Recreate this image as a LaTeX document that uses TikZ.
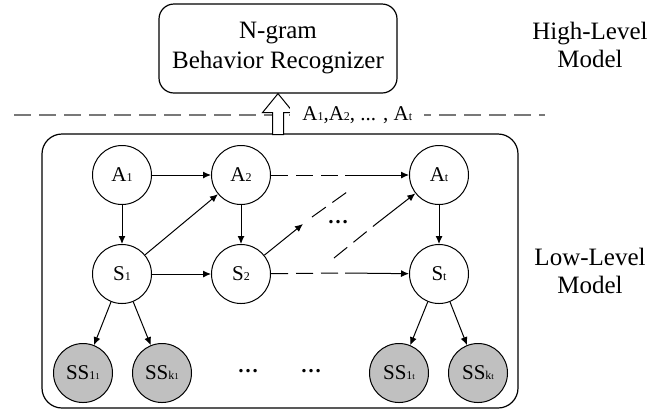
\documentclass[tikz,border=0pt]{standalone}
\usepackage{fontspec}
\setmainfont{Liberation Serif}
\usepackage{tikz}
\usetikzlibrary{arrows.meta, positioning, calc}
\definecolor{grisSS}{RGB}{192,192,192}
\definecolor{grisLinea}{RGB}{120,120,120}
\newcommand{\idx}[1]{{\fontsize{6}{6}\selectfont #1}}
\newcommand{\idxx}[1]{{\fontsize{4.5}{4.5}\selectfont #1}}

\begin{document}
\begin{tikzpicture}[
  x=0.5pt, y=-0.5pt,
  node distance=19.5pt and 29.5pt,
  var/.style={circle, draw, line width=0.5pt, minimum size=29.5pt,
              inner sep=0pt, font=\fontsize{10.5}{12}\selectfont},
  obs/.style={var, fill=grisSS},
  model/.style={rectangle, draw, line width=0.6pt, rounded corners=7.5pt,
                align=center, font=\fontsize{12.5}{15}\selectfont},
  arrow/.style={-{Latex[length=4pt,width=3.5pt]}, line width=0.5pt},
  broken/.style={line width=0.5pt, dash pattern=on 8.5pt off 4pt},
  level/.style={align=center, font=\fontsize{12.5}{14}\selectfont},
  dots/.style={font=\fontsize{10.5}{12}\selectfont\bfseries}
]
\useasboundingbox (0,0) rectangle (662,414);

% Separador de niveles
\coordinate (sepL) at (14,115);
\coordinate (sepR) at (545,115);
\draw[grisLinea, line width=0.6pt, dash pattern=on 8.5pt off 4pt] (sepL) -- (sepR);

% Nivel alto
\node[model, minimum width=119pt, minimum height=44.5pt] (ngram) at (278,48.5)
  {N-gram\\Behavior Recognizer};
\node[level] (high) at (590,45) {High-Level\\Model};

% Nivel bajo
\node[model, rounded corners=10pt, minimum width=238pt, minimum height=137pt]
  (low) at (280,271) {};
\node[level] (lowlab) at (590,271) {Low-Level\\Model};

% Flecha hueca
\draw[fill=white, line width=0.5pt] (ngram.south) -- ++(15.5,19) -- ++(-10,0)
  -- ++(0,22) -- ++(-11,0) -- ++(0,-22) -- ++(-10,0) -- cycle;
\node[anchor=west, fill=white, inner xsep=6pt, inner ysep=1pt,
      font=\fontsize{10.5}{12}\selectfont] (seq) at (290,115)
  {A\idx{1},A\idx{2}, ... , A\idx{t}};

% Nodos
\node[var] (A1) at (122,175) {A\idx{1}};
\node[var, right=of A1] (A2) {A\idx{2}};
\node[var, right=69pt of A2] (At) {A\idx{t}};
\node[var, below=of A1] (S1) {S\idx{1}};
\node[var, below=of A2] (S2) {S\idx{2}};
\node[var, below=of At] (St) {S\idx{t}};
\node[obs, below=of S1, xshift=-19.5pt] (SS11) {SS\idx{1\idxx{1}}};
\node[obs, below=of S1, xshift=20pt]    (SSk1) {SS\idx{k\idxx{1}}};
\node[obs, below=of St, xshift=-20pt]   (SS1t) {SS\idx{1\idxx{t}}};
\node[obs, below=of St, xshift=19.5pt]  (SSkt) {SS\idx{k\idxx{t}}};

\node[dots] (dotsM) at (338,222) {\textellipsis};
\node[dots] (dotsL) at (248,371) {\textellipsis};
\node[dots] (dotsR) at (311,371) {\textellipsis};

% Puntos auxiliares
\coordinate (hA) at (345,175);
\coordinate (hS) at (345,273);
\coordinate (d1) at (303,224);
\coordinate (d1s) at (312,217);
\coordinate (d1e) at (347,192);
\coordinate (d2s) at (334,258);
\coordinate (d2e) at (376,224);

% Flechas
\draw[arrow] (A1) -- (A2);
\draw[arrow] (S1) -- (S2);
\draw[arrow] (A1) -- (S1);
\draw[arrow] (A2) -- (S2);
\draw[arrow] (At) -- (St);
\draw[arrow] (S1) -- (A2);
\draw[broken] (A2) -- (hA);
\draw[arrow] (hA) -- (At);
\draw[broken] (S2) -- (hS);
\draw[arrow] (hS) -- (St);
\draw[arrow] (S2) -- (d1);
\draw[broken] (d1s) -- (d1e);
\draw[broken] (d2s) -- (d2e);
\draw[arrow] (d2e) -- (At);
\draw[arrow] (S1) -- (SS11);
\draw[arrow] (S1) -- (SSk1);
\draw[arrow] (St) -- (SS1t);
\draw[arrow] (St) -- (SSkt);
\end{tikzpicture}
\end{document}
